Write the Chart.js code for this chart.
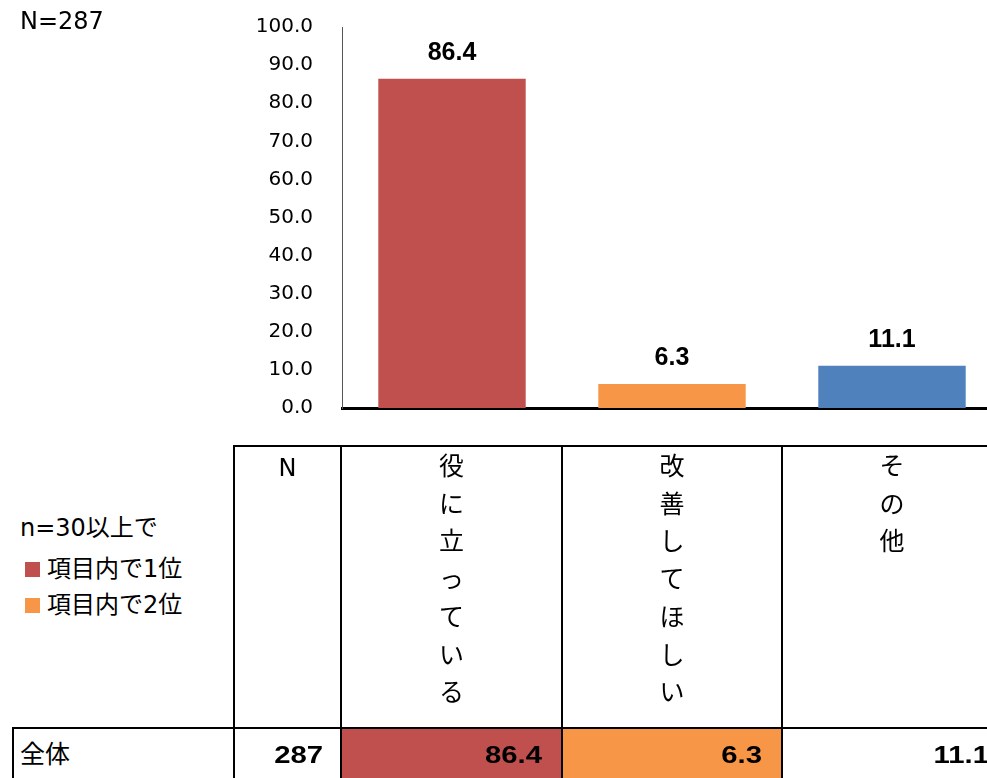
<!DOCTYPE html>
<html lang="ja">
<head>
<meta charset="utf-8">
<script src="https://cdn.jsdelivr.net/npm/chart.js@4"></script>
<style>
  html, body { margin: 0; padding: 0; background: #fff; overflow: hidden; }
  body { width: 987px; height: 778px; position: relative; font-family: "DejaVu Sans", "Noto Sans CJK JP", sans-serif; color: #000; }
  #wrap { position: absolute; left: 0; top: -14px; width: 1002px; height: 463px; }
  .txt { position: absolute; font-size: 24px; line-height: 1; white-space: nowrap; }
  .jp { font-size: 25px; }
  .cell { position: absolute; box-sizing: border-box; }
  .num { font-family: "Liberation Sans", Arial, sans-serif; font-weight: bold; font-size: 24px; transform: scaleX(1.22); transform-origin: right center; }
  .hline { position: absolute; height: 2px; background: #000; }
  .vline { position: absolute; width: 2px; background: #000; }
  .sw { display: inline-block; width: 15px; height: 15px; margin-right: 7px; vertical-align: 0px; }
</style>
</head>
<body>
<div id="wrap"><canvas id="myChart" width="1002" height="463"></canvas></div>
<div class="txt" style="left:20px;top:9px;">N=287</div>
<div id="table"></div>
<script>
// Survey answers (%), total N and column colours
const categories = ['役に立っている', '改善してほしい', 'その他'];
const values = [86.4, 6.3, 11.1];
const barColors = ['#C0504D', '#F79646', '#4F81BD'];
const totalN = 287;
const rowLabel = '全体';
// table cell fills: rank 1 and rank 2 within the row, none for the rest
const cellFills = ['#C0504D', '#F79646', null];
const legendTitle = 'n=30以上で';
const legendItems = ['項目内で1位', '項目内で2位'];
const legendColors = ['#C0504D', '#F79646'];

// value labels above each bar
const barLabels = {
    id: 'barLabels',
    afterDatasetsDraw(chart) {
        const ctx = chart.ctx;
        const meta = chart.getDatasetMeta(0);
        ctx.save();
        ctx.font = 'bold 25px "Liberation Sans", Arial, sans-serif';
        ctx.fillStyle = '#000';
        ctx.textAlign = 'center';
        ctx.textBaseline = 'middle';
        meta.data.forEach((bar, i) => {
            ctx.fillText(values[i].toFixed(1), bar.x, bar.y - 26);
        });
        ctx.restore();
    }
};

const ctx = document.getElementById('myChart').getContext('2d');
const myChart = new Chart(ctx, {
    type: 'bar',
    data: {
        labels: categories,
        datasets: [{
            data: values,
            backgroundColor: barColors,
            borderWidth: 0,
            barPercentage: 0.67,
            categoryPercentage: 1.0
        }]
    },
    options: {
        responsive: false,
        animation: false,
        layout: { padding: { top: 13, left: 0, right: 0, bottom: 0 } },
        plugins: { legend: { display: false }, tooltip: { enabled: false } },
        scales: {
            x: {
                grid: { display: false, drawTicks: false },
                border: { display: true, color: '#000', width: 3 },
                ticks: { display: false }
            },
            y: {
                min: 0,
                max: 100,
                afterFit(scale) { scale.width = 342; },
                grid: { display: false, drawTicks: false },
                border: { display: true, color: '#555', width: 1 },
                ticks: {
                    stepSize: 10,
                    padding: 29,
                    color: '#000',
                    font: { family: '"DejaVu Sans", sans-serif', size: 20 },
                    callback: v => v.toFixed(1)
                }
            }
        }
    },
    plugins: [barLabels]
});

// table below the chart
const table = document.getElementById('table');
function add(html) { table.insertAdjacentHTML('beforeend', html); }

const colEdges = [234, 341, 562, 782, 1009];
const headTop = 445, rowTop = 727, bottom = 800;

// fills of the data row
cellFills.forEach((c, i) => {
    if (c) add(`<div class="cell" style="left:${colEdges[i + 1]}px;top:${rowTop}px;width:${colEdges[i + 2] - colEdges[i + 1]}px;height:${bottom - rowTop}px;background:${c}"></div>`);
});

// grid lines
add(`<div class="hline" style="left:${colEdges[0]}px;top:${headTop}px;width:800px"></div>`);
add(`<div class="hline" style="left:12px;top:${rowTop}px;width:1000px"></div>`);
add(`<div class="vline" style="left:12px;top:${rowTop}px;height:${bottom - rowTop}px"></div>`);
colEdges.slice(0, 4).forEach(x => {
    add(`<div class="vline" style="left:${x - 1}px;top:${headTop}px;height:${bottom - headTop}px"></div>`);
});

// header: N and vertical category names
add(`<div class="txt" style="left:${colEdges[0]}px;width:${colEdges[1] - colEdges[0]}px;top:456px;text-align:center">N</div>`);
categories.forEach((name, i) => {
    const chars = name.split('').join('<br>');
    const w = Math.min(colEdges[i + 2], 1002) - colEdges[i + 1];
    add(`<div class="txt jp" style="left:${colEdges[i + 1]}px;width:${w}px;top:448px;text-align:center;line-height:37.7px">${chars}</div>`);
});

// legend for the cell fills
add(`<div class="txt" style="left:20px;top:516px">${legendTitle}</div>`);
legendItems.forEach((t, i) => {
    add(`<div class="txt" style="left:25px;top:${557 + i * 36}px"><span class="sw" style="background:${legendColors[i]}"></span>${t}</div>`);
});

// data row
add(`<div class="txt jp" style="left:20px;top:742px">${rowLabel}</div>`);
add(`<div class="txt num" style="left:${colEdges[0]}px;width:${colEdges[1] - colEdges[0] - 18}px;top:743px;text-align:right">${totalN}</div>`);
values.forEach((v, i) => {
    add(`<div class="txt num" style="left:${colEdges[i + 1]}px;width:${colEdges[i + 2] - colEdges[i + 1] - 20}px;top:743px;text-align:right">${v.toFixed(1)}</div>`);
});
</script>
</body>
</html>
